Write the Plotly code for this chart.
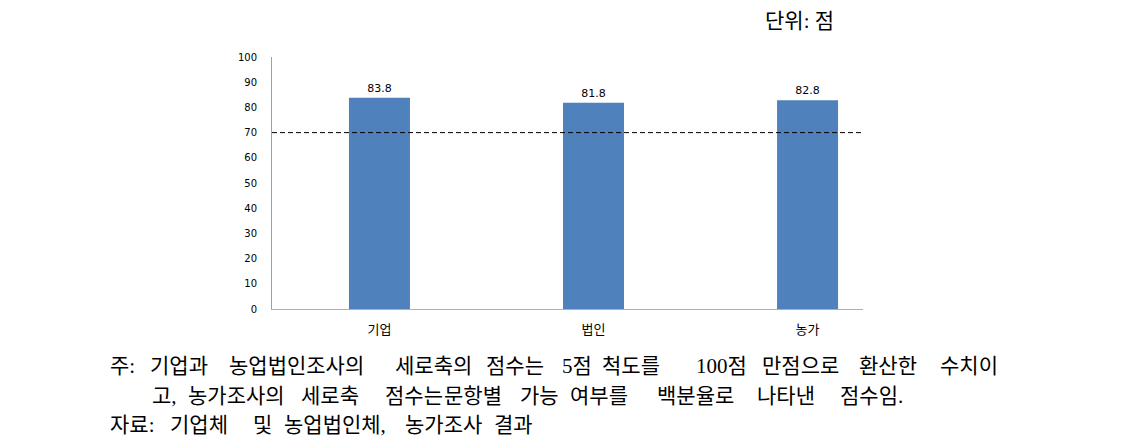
import plotly.graph_objects as go

categories = ["기업", "법인", "농가"]
scores = [83.8, 81.8, 82.8]
threshold = 70
y_ticks = [0, 10, 20, 30, 40, 50, 60, 70, 80, 90, 100]
unit_text = "단위: 점"
note_line1 = ["주:", "기업과", "농업법인조사의", "세로축의", "점수는", "5점", "척도를",
              "100점", "만점으로", "환산한", "수치이"]
note_line2 = ["고,", "농가조사의", "세로축", "점수는", "문항별", "가능", "여부를",
              "백분율로", "나타낸", "점수임."]
note_line3 = ["자료:", "기업체", "및", "농업법인체,", "농가조사", "결과"]

# layout (pixel positions of words, justified text in original)
W, H = 1130, 444
L, R, T, B = 272, 863, 57, 309
x1 = [108, 148, 227, 393, 484, 560, 600, 694, 760, 857, 938]
x2 = [150, 186, 299, 383, 442, 518, 568, 655, 755, 838]
x3 = [108, 168, 251, 282, 403, 492]
rows_y = [366, 396, 425]


def px(xp):
    return (xp - L) / (R - L)


def py(yp):
    return (B - yp) / (B - T)


fig = go.Figure()
fig.add_trace(go.Bar(
    x=list(range(len(categories))), y=scores,
    width=0.285,
    marker=dict(color="#4F81BD", line=dict(width=0)),
    text=[f"{v:.1f}" for v in scores],
    textposition="outside",
    textfont=dict(family="DejaVu Sans", size=11, color="#000000"),
    cliponaxis=False,
    showlegend=False,
))

fig.add_shape(type="line", xref="paper", yref="y", x0=0, x1=1,
              y0=threshold, y1=threshold,
              line=dict(color="#000000", width=1, dash="5px,3px"))

annotations = []
annotations.append(dict(text=unit_text, x=px(763), y=py(21), xref="paper", yref="paper",
                        xanchor="left", yanchor="middle", showarrow=False,
                        font=dict(family="Liberation Serif, Noto Sans CJK KR", size=21,
                                  color="#000000")))
font_note = dict(family="Liberation Serif, Noto Sans CJK KR", size=21, color="#000000")
for words, xs, yy in [(note_line1, x1, rows_y[0]), (note_line2, x2, rows_y[1]),
                      (note_line3, x3, rows_y[2])]:
    for w, xx in zip(words, xs):
        annotations.append(dict(text=w, x=px(xx), y=py(yy), xref="paper", yref="paper",
                                xanchor="left", yanchor="middle", showarrow=False,
                                font=font_note))

fig.update_layout(
    width=W, height=H,
    margin=dict(l=L, r=W - R, t=T, b=H - B, pad=0),
    plot_bgcolor="#ffffff", paper_bgcolor="#ffffff",
    annotations=annotations,
    xaxis=dict(
        range=[-0.502, 2.259],
        tickmode="array", tickvals=list(range(len(categories))), ticktext=categories,
        showgrid=False, zeroline=False,
        showline=True, linecolor="#b0b0b0", linewidth=1,
        ticks="", ticklabelstandoff=8,
        tickfont=dict(family="Noto Sans CJK KR", size=13, color="#000000"),
        fixedrange=True,
    ),
    yaxis=dict(
        range=[0, 100],
        tickmode="array", tickvals=y_ticks,
        showgrid=False, zeroline=False,
        showline=True, linecolor="#a0a0a0", linewidth=1,
        ticks="", ticklabelstandoff=12,
        tickfont=dict(family="DejaVu Sans", size=10, color="#000000"),
        fixedrange=True,
    ),
)

fig.write_html("out.html", config={"displayModeBar": False})
